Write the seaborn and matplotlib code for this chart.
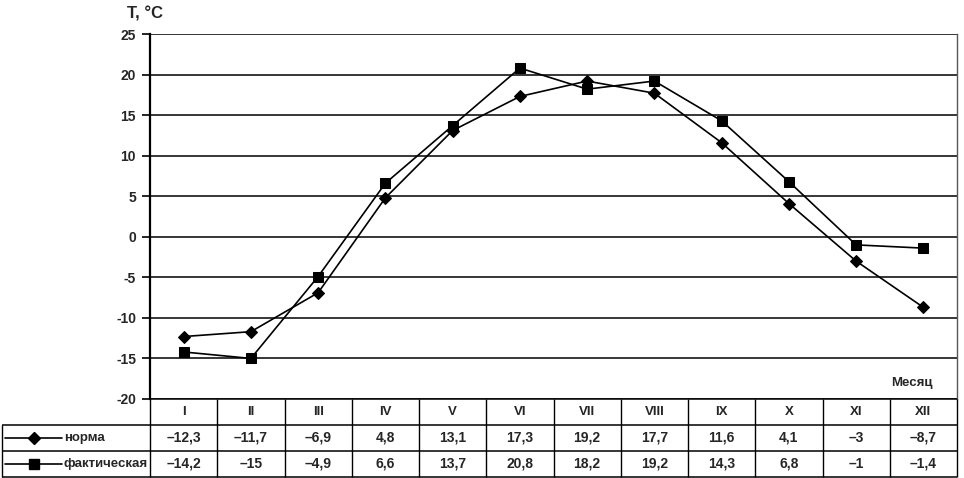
import numpy as np
import pandas as pd
import seaborn as sns
import matplotlib.pyplot as plt

months = ['I', 'II', 'III', 'IV', 'V', 'VI', 'VII', 'VIII', 'IX', 'X', 'XI', 'XII']
norma = [-12.3, -11.7, -6.9, 4.8, 13.1, 17.3, 19.2, 17.7, 11.6, 4.1, -3, -8.7]
fakt = [-14.2, -15, -4.9, 6.6, 13.7, 20.8, 18.2, 19.2, 14.3, 6.8, -1, -1.4]
series_names = ['норма', 'фактическая']
yticks = [-20, -15, -10, -5, 0, 5, 10, 15, 20, 25]

sns.set_theme(style='white')
plt.rcParams['font.family'] = ['Liberation Sans', 'DejaVu Sans']
plt.rcParams['axes.unicode_minus'] = False

W, H = 964, 478
fig = plt.figure(figsize=(W / 100, H / 100), dpi=100)
fig.patch.set_facecolor('white')


def px(l, t, r, b):
    return [l / W, 1 - b / H, (r - l) / W, (b - t) / H]


# main plot
ax = fig.add_axes(px(150, 34, 957, 399))
x = np.arange(len(months))
df = pd.DataFrame({
    'month': np.tile(x, 2),
    'T': norma + fakt,
    'series': np.repeat(series_names, len(months)),
})
sns.lineplot(data=df, x='month', y='T', hue='series', style='series',
             markers={'норма': 'D', 'фактическая': 's'}, dashes=False,
             palette=['black', 'black'], markersize=6.5, linewidth=1.2,
             markeredgecolor='black', legend=False, ax=ax)
ax.set_xlim(-0.5, len(months) - 0.5)
ax.set_ylim(-20, 25)
ax.set_yticks(yticks)
ax.yaxis.grid(True, color='black', linewidth=1.1)
ax.xaxis.grid(False)
ax.set_xticks([])
ax.set_xlabel('')
ax.set_ylabel('')
ax.tick_params(axis='y', length=6, width=1.2, color='black', direction='out',
               labelsize=10, pad=4, left=True)
for lab in ax.get_yticklabels():
    lab.set_fontweight('bold')
ax.spines['left'].set_color('black')
ax.spines['left'].set_linewidth(1.6)
ax.spines['right'].set_color('#555555')
ax.spines['right'].set_linewidth(1.0)
ax.spines['top'].set_visible(False)
ax.spines['bottom'].set_visible(False)

fig.text(145 / W, 1 - 14 / H, 'T, °C', ha='center', va='center',
         fontsize=12, fontweight='bold')
ax.text(0.97, 0.045, 'Месяц', transform=ax.transAxes, ha='right',
        va='center', fontsize=9.5, fontweight='bold')

# data table under the plot
col_px = 807 / len(months)
tab = fig.add_axes(px(2, 399, 957, 477))
left = -148 / col_px
tab.set_xlim(left, len(months))
tab.set_ylim(3, 0)
tab.axis('off')
tab.hlines([0], 0, len(months), color='black', linewidth=1.1, clip_on=False)
tab.hlines([1, 2, 3], left, len(months), color='black', linewidth=1.1, clip_on=False)
tab.vlines(np.arange(len(months) + 1), 0, 3, color='black', linewidth=1.0, clip_on=False)
tab.vlines([left], 1, 3, color='black', linewidth=1.0, clip_on=False)


def fmt(v):
    s = f'{v:g}'.replace('.', ',')
    return s.replace('-', '–')


for i, m in enumerate(months):
    tab.text(i + 0.5, 0.5, m, ha='center', va='center', fontsize=9.5, fontweight='bold')
    tab.text(i + 0.5, 1.5, fmt(norma[i]), ha='center', va='center', fontsize=10, fontweight='bold')
    tab.text(i + 0.5, 2.5, fmt(fakt[i]), ha='center', va='center', fontsize=10, fontweight='bold')

for row, name, mk in [(1.5, series_names[0], 'D'), (2.5, series_names[1], 's')]:
    x0, x1 = (5 - 150) / col_px, (62 - 150) / col_px
    tab.plot([x0, x1], [row, row], color='black', linewidth=1.2, clip_on=False)
    tab.plot([(x0 + x1) / 2], [row], marker=mk, color='black', markersize=6.5, clip_on=False)
    tab.text((64 - 150) / col_px, row, name, ha='left', va='center',
             fontsize=9.5, fontweight='bold')

plt.savefig('out.png', dpi=100, facecolor='white')
